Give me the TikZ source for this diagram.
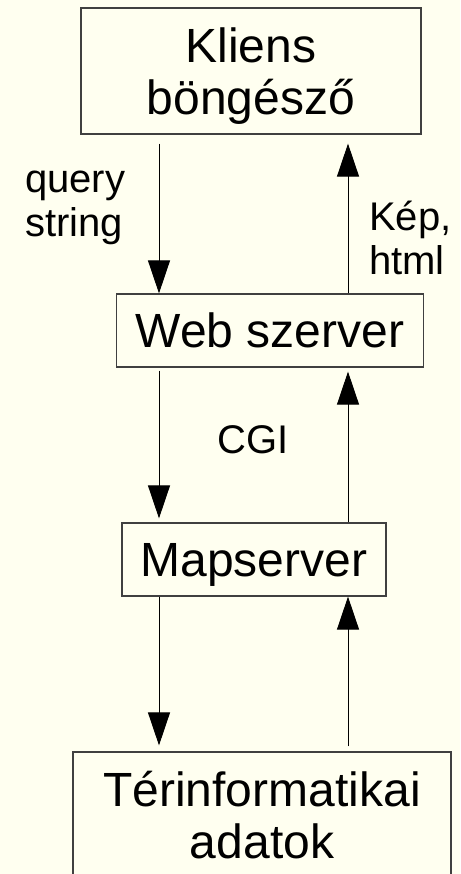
\documentclass[tikz,border=0pt]{standalone}
\usepackage{fontspec}
\setmainfont{Liberation Sans}
\usetikzlibrary{arrows.meta}
\definecolor{bgyellow}{RGB}{255,255,240}
\definecolor{boxgray}{RGB}{64,64,64}

\begin{document}
\begin{tikzpicture}[x=1pt,y=1pt,yscale=-1,
  box/.style={draw=boxgray,line width=1.2pt,fill=bgyellow,align=center,inner sep=0pt,text depth=0pt,font=\fontsize{48}{52}\selectfont},
  lbl/.style={inner sep=0pt,font=\fontsize{40}{44}\selectfont},
  flow/.style={line width=1pt,-{Triangle[length=33pt,width=22pt]}}]
%set diagram size: 460 wide, 874 high
\fill[bgyellow] (0,0) rectangle (460,874);
\useasboundingbox (0,0) rectangle (460,874);

% Boxes
\node[box,minimum width=340pt,minimum height=126pt] (kliens) at (251,71) {Kliens\\böngésző};
\node[box,minimum width=307pt,minimum height=73pt] (web) at (270,330.5) {Web szerver};
\node[box,minimum width=264pt,minimum height=73pt] (map) at (254,559.5) {Mapserver};
\node[box,minimum width=378pt,minimum height=126pt] (adat) at (262,815) {Térinformatikai\\adatok};

% Arrow columns
\coordinate (dn) at (159,0);
\coordinate (up) at (348,0);

% Arrows
\draw[flow,shorten <=9pt] (kliens.south -| dn) -- (web.north -| dn);
\draw[flow,shorten >=9pt] (web.north -| up) -- (kliens.south -| up);
\draw[flow,shorten <=3pt,shorten >=4pt] (web.south -| dn) -- (map.north -| dn);
\draw[flow,shorten >=4pt] (map.north -| up) -- (web.south -| up);
\draw[flow,shorten >=6pt] (map.south -| dn) -- (adat.north -| dn);
\draw[flow,shorten <=5pt] (adat.north -| up) -- (map.south -| up);

% Text Node
\node[lbl,align=left,anchor=west] (query) at (25,208) {query\\string};
% Text Node
\node[lbl,align=left,anchor=west] (kep) at (369,238) {Kép,\\html};
% Text Node
\node[lbl] (cgi) at (253,440) {CGI};
\end{tikzpicture}
\end{document}
